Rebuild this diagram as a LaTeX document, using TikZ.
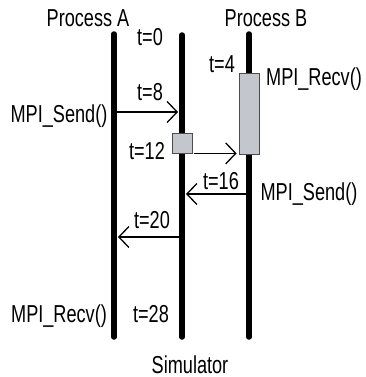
\documentclass[tikz,border=0pt]{standalone}
\usepackage{fontspec}
\setmainfont{Liberation Sans}[FakeStretch=0.74]
\usetikzlibrary{arrows.meta, calc}

\definecolor{boxgray}{RGB}{195,198,204}

\tikzset{
  lifeline/.style={line width=5.5pt, line cap=round},
  msg/.style={line width=1.3pt, -{Straight Barb[length=10pt, width=21pt]}},
  busy/.style={draw=black!70, line width=0.8pt, fill=boxgray, inner sep=0pt},
  lbl/.style={anchor=base, inner sep=0pt, font=\fontsize{24.5}{27}\selectfont},
}

\begin{document}
\begin{tikzpicture}
\begin{scope}[x=1pt, y=-1pt]
\useasboundingbox (0,0) rectangle (366,377);

% life lines
\coordinate (Atop) at (114,34);
\coordinate (Abot) at (114,337);
\coordinate (Stop) at (182,35);
\coordinate (Sbot) at (182,337);
\coordinate (Btop) at (249,34);
\coordinate (Bbot) at (249,337);
\draw[lifeline](Atop)to(Abot);
\draw[lifeline](Stop)to(Sbot);
\draw[lifeline](Btop)to(Bbot);

% blocked intervals
\node[busy, minimum width=20pt, minimum height=81pt] (recvB) at (249,113.5) {};
\node[busy, minimum width=20pt, minimum height=20pt] (waitS) at (182,143) {};

% labels
\node[lbl] (procA) at (88,27) {Process A};
\node[lbl] (procB) at (266,27) {Process B};
\node[lbl] (sim) at (190,373) {Simulator};
\node[lbl] (t0) at (150,46) {t=0};
\node[lbl] (t4) at (222,73) {t=4};
\node[lbl] (t8) at (150,101) {t=8};
\node[lbl] (t12) at (147,159) {t=12};
\node[lbl] (t16) at (221,189) {t=16};
\node[lbl] (t20) at (152,228) {t=20};
\node[lbl] (t28) at (151,322) {t=28};
\node[lbl] (recvBlbl) at (314,86) {MPI\_Recv()};
\node[lbl] (sendAlbl) at (59,122) {MPI\_Send()};
\node[lbl] (sendBlbl) at (309,200) {MPI\_Send()};
\node[lbl] (recvAlbl) at (59,322) {MPI\_Recv()};

% messages
\coordinate (m1a) at (117,112);
\coordinate (m1b) at (178,112);
\coordinate (m2a) at ($(waitS.south east)+(2,0)$);
\coordinate (m2b) at ($(recvB.south west)+(-2,-1)$);
\coordinate (m3a) at (247,194);
\coordinate (m3b) at (186,194);
\coordinate (m4a) at (179,237);
\coordinate (m4b) at (118,237);
\draw[msg](m1a)to(m1b);
\draw[msg](m2a)to(m2b);
\draw[msg](m3a)to(m3b);
\draw[msg](m4a)to(m4b);

\end{scope}
\end{tikzpicture}
\end{document}
